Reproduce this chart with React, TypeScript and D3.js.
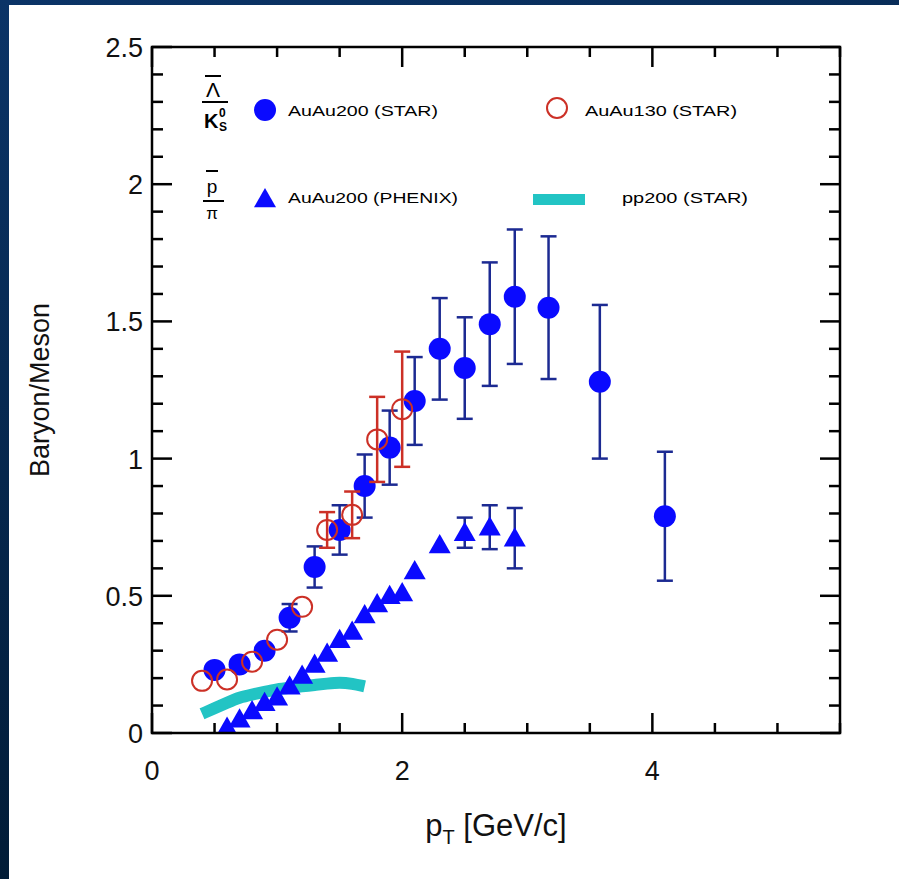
import React from "react";
import * as d3 from "d3";

// ---- Data ----
const starPt = [0.5, 0.7, 0.9, 1.1, 1.3, 1.5, 1.7, 1.9, 2.1, 2.3, 2.5, 2.7, 2.9, 3.17, 3.58, 4.1];
const starVal = [0.23, 0.25, 0.30, 0.42, 0.605, 0.74, 0.90, 1.04, 1.21, 1.40, 1.33, 1.49, 1.59, 1.55, 1.28, 0.79];
const starErr = [0, 0, 0, 0.05, 0.075, 0.09, 0.115, 0.135, 0.16, 0.185, 0.185, 0.225, 0.245, 0.26, 0.28, 0.235];

const au130Pt = [0.4, 0.6, 0.8, 1.0, 1.2, 1.4, 1.6, 1.8, 2.0];
const au130Val = [0.19, 0.195, 0.26, 0.34, 0.46, 0.74, 0.795, 1.07, 1.18];
const au130Err = [0, 0, 0, 0, 0, 0.065, 0.085, 0.155, 0.21];

const phenixPt = [0.6, 0.7, 0.8, 0.9, 1.0, 1.1, 1.2, 1.3, 1.4, 1.5, 1.6, 1.7, 1.8, 1.9, 2.0, 2.1, 2.3, 2.5, 2.7, 2.9];
const phenixVal = [0.02, 0.05, 0.08, 0.11, 0.13, 0.17, 0.21, 0.25, 0.29, 0.34, 0.37, 0.43, 0.47, 0.50, 0.51, 0.59, 0.685, 0.73, 0.75, 0.71];
const phenixErr = [0, 0, 0, 0, 0, 0, 0, 0, 0, 0, 0, 0, 0, 0, 0, 0, 0, 0.055, 0.08, 0.11];

const ppPt = [0.4, 0.5, 0.6, 0.7, 0.8, 0.9, 1.0, 1.1, 1.2, 1.3, 1.4, 1.5, 1.6, 1.7];
const ppVal = [0.07, 0.09, 0.11, 0.13, 0.14, 0.15, 0.16, 0.165, 0.17, 0.175, 0.18, 0.185, 0.18, 0.17];

const xTickLabels = ["0", "2", "4"];
const yTickLabels = ["0", "0.5", "1", "1.5", "2", "2.5"];

const legendLabels = ["AuAu200 (STAR)", "AuAu130 (STAR)", "AuAu200 (PHENIX)", "pp200 (STAR)"];

// ---- Layout ----
const W = 899, H = 879;
const L = 152, R = 840, T = 47, B = 733;
const BLUE = "#0a0aff";
const ERRBLUE = "#1c2a92";
const RED = "#cc3026";
const CYAN = "#22c4c4";
const FONT = "'Liberation Sans', Arial, Helvetica, sans-serif";

export default function App() {
  const x = d3.scaleLinear().domain([0, 5.5]).range([L, R]);
  const y = d3.scaleLinear().domain([0, 2.5]).range([B, T]);

  const xTicks = d3.range(0, 5.5 + 1e-6, 0.5);
  const yTicks = d3.range(0, 2.5 + 1e-6, 0.1);
  const isMajX = (v: number) => Math.abs(v / 2 - Math.round(v / 2)) < 1e-6;
  const isMajY = (v: number) => Math.abs(v / 0.5 - Math.round(v / 0.5)) < 1e-6;

  const ppLine = d3
    .line<number>()
    .x((_, i) => x(ppPt[i]))
    .y((d) => y(d))
    .curve(d3.curveBasis)(ppVal) as string;

  const tri = (cx: number, cy: number, s = 11) =>
    `M${cx},${cy - s}L${cx + s},${cy + s * 0.75}L${cx - s},${cy + s * 0.75}Z`;

  const errBar = (px: number, v: number, e: number, color: string, key: string) => {
    if (!e) return null;
    const cx = x(px);
    const y1 = y(v + e), y2 = y(v - e);
    const cw = 8;
    return (
      <g key={key} stroke={color} strokeWidth={2.5}>
        <line x1={cx} x2={cx} y1={y1} y2={y2} />
        <line x1={cx - cw} x2={cx + cw} y1={y1} y2={y1} />
        <line x1={cx - cw} x2={cx + cw} y1={y2} y2={y2} />
      </g>
    );
  };

  return (
    <svg width={W} height={H} style={{ position: "absolute", left: 0, top: 0 }} fontFamily={FONT}>
      <defs>
        <linearGradient id="bg" x1="0" y1="0" x2="0.3" y2="1">
          <stop offset="0" stopColor="#0b3467" />
          <stop offset="1" stopColor="#011a33" />
        </linearGradient>
        <clipPath id="plotclip">
          <rect x={L} y={T} width={R - L} height={B - T} />
        </clipPath>
      </defs>
      <rect x={0} y={0} width={W} height={H} fill="url(#bg)" />
      <rect x={9} y={5} width={W - 9} height={H - 5} fill="#ffffff" />

      {/* data */}
      <g clipPath="url(#plotclip)">
        <path d={ppLine} fill="none" stroke={CYAN} strokeWidth={12} />
        {phenixPt.map((p, i) => errBar(p, phenixVal[i], phenixErr[i], ERRBLUE, "pe" + i))}
        {phenixPt.map((p, i) => (
          <path key={"pt" + i} d={tri(x(p), y(phenixVal[i]))} fill={BLUE} />
        ))}
        {starPt.map((p, i) => errBar(p, starVal[i], starErr[i], ERRBLUE, "se" + i))}
        {starPt.map((p, i) => (
          <circle key={"sc" + i} cx={x(p)} cy={y(starVal[i])} r={11} fill={BLUE} />
        ))}
        {au130Pt.map((p, i) => errBar(p, au130Val[i], au130Err[i], RED, "ae" + i))}
        {au130Pt.map((p, i) => (
          <circle key={"ac" + i} cx={x(p)} cy={y(au130Val[i])} r={10} fill="none" stroke={RED} strokeWidth={2} />
        ))}
      </g>

      {/* frame */}
      <rect x={L} y={T} width={R - L} height={B - T} fill="none" stroke="#000" strokeWidth={2.5} />
      {xTicks.map((v) => {
        const len = isMajX(v) ? 20 : 10;
        return (
          <g key={"xt" + v} stroke="#000" strokeWidth={2.5}>
            <line x1={x(v)} x2={x(v)} y1={B} y2={B - len} />
            <line x1={x(v)} x2={x(v)} y1={T} y2={T + len} />
          </g>
        );
      })}
      {yTicks.map((v) => {
        const len = isMajY(v) ? 20 : 11;
        return (
          <g key={"yt" + v.toFixed(1)} stroke="#000" strokeWidth={2.5}>
            <line x1={L} x2={L + len} y1={y(v)} y2={y(v)} />
            <line x1={R} x2={R - len} y1={y(v)} y2={y(v)} />
          </g>
        );
      })}

      {/* tick labels */}
      {xTickLabels.map((t) => (
        <text key={"xl" + t} x={x(+t)} y={B + 47} fontSize={27} textAnchor="middle" fill="#111">
          {t}
        </text>
      ))}
      {yTickLabels.map((t) => (
        <text key={"yl" + t} x={L - 9} y={y(+t) + 10} fontSize={27} textAnchor="end" fill="#111">
          {t}
        </text>
      ))}

      {/* axis titles */}
      <text x={(L + R) / 2} y={836} fontSize={31} textAnchor="middle" fill="#111">
        p<tspan fontSize={20} dy={8}>T</tspan>
        <tspan dy={-8}> [GeV/c]</tspan>
      </text>
      <text transform={`translate(49,390) rotate(-90)`} fontSize={27} textAnchor="middle" fill="#111">
        Baryon/Meson
      </text>

      {/* legend: fractions */}
      <g fill="#000" fontWeight="bold">
        <line x1={205} x2={221} y1={76} y2={76} stroke="#000" strokeWidth={2} />
        <text x={213} y={97} fontSize={21} textAnchor="middle" fontWeight="normal">Λ</text>
        <line x1={202} x2={228} y1={102} y2={102} stroke="#000" strokeWidth={2} />
        <text x={204} y={128} fontSize={20}>K</text>
        <text x={219} y={117} fontSize={12}>0</text>
        <text x={219} y={131} fontSize={12}>S</text>

        <line x1={206} x2={218} y1={171} y2={171} stroke="#000" strokeWidth={2} />
        <text x={212} y={193} fontSize={19} textAnchor="middle" fontWeight="normal">p</text>
        <line x1={203} x2={224} y1={201} y2={201} stroke="#000" strokeWidth={2} />
        <text x={212} y={219} fontSize={17} textAnchor="middle" fontWeight="normal">π</text>
      </g>

      {/* legend entries */}
      <circle cx={265} cy={110} r={11} fill={BLUE} />
      <text x={288} y={116} fontSize={14} textLength={150} lengthAdjust="spacingAndGlyphs" fill="#000">
        {legendLabels[0]}
      </text>
      <circle cx={557} cy={108} r={10} fill="none" stroke={RED} strokeWidth={2} />
      <text x={585} y={116} fontSize={14} textLength={152} lengthAdjust="spacingAndGlyphs" fill="#000">
        {legendLabels[1]}
      </text>
      <path d={tri(265, 199)} fill={BLUE} />
      <text x={288} y={203} fontSize={14} textLength={170} lengthAdjust="spacingAndGlyphs" fill="#000">
        {legendLabels[2]}
      </text>
      <rect x={533} y={194} width={52} height={11} fill={CYAN} />
      <text x={622} y={203} fontSize={14} textLength={126} lengthAdjust="spacingAndGlyphs" fill="#000">
        {legendLabels[3]}
      </text>
    </svg>
  );
}
